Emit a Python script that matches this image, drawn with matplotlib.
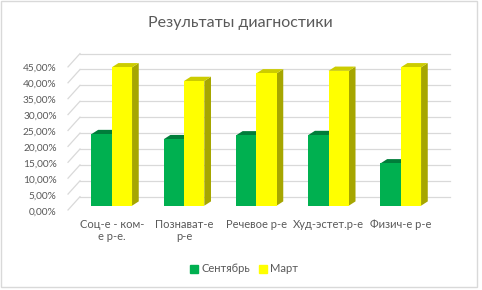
import matplotlib
matplotlib.use('Agg')
import matplotlib.pyplot as plt
from matplotlib.patches import Polygon, Patch, Rectangle
from matplotlib.transforms import offset_copy, ScaledTranslation
from matplotlib.ticker import FuncFormatter

plt.rcParams['font.family'] = ['Lato', 'DejaVu Sans']

# data
categories = ['Соц-е - ком-\nе р-е.', 'Познават-е\nр-е', 'Речевое р-е', 'Худ-эстет.р-е', 'Физич-е р-е']
september = [0.225, 0.209, 0.221, 0.222, 0.133]
march = [0.435, 0.392, 0.416, 0.424, 0.435]
y_ticks = [0, 0.05, 0.10, 0.15, 0.20, 0.25, 0.30, 0.35, 0.40, 0.45]

green = '#00B050'
green_top = '#007D3A'
green_side = '#00803C'
yellow = '#FFFF00'
yellow_top = '#CCCC00'
yellow_side = '#A6A600'
text_col = '#595959'
grid_col = '#D9D9D9'

W, H = 482, 290
fig = plt.figure(figsize=(W / 100, H / 100), dpi=100)

# chart border
fig.patches.append(Rectangle((1 / W, 3 / H), 476 / W, 286 / H, transform=fig.transFigure,
                             fill=False, edgecolor='#D9D9D9', linewidth=1))

# axes placed in pixel units
left, right, bottom, top = 72, 447, 205.7, 62.6
ax = fig.add_axes([left / W, 1 - bottom / H, (right - left) / W, (bottom - top) / H])
ax.set_xlim(-0.55, 4.64)
ax.set_ylim(0, 0.45)
for s in ax.spines.values():
    s.set_visible(False)
ax.patch.set_alpha(0)

# back wall gridlines and floor diagonals (depth effect)
back = offset_copy(ax.get_yaxis_transform(), fig=fig, x=8, y=9, units='dots')
front = offset_copy(ax.get_yaxis_transform(), fig=fig, x=-4, y=-4.3, units='dots')
for t in y_ticks:
    ax.plot([0, 0.987], [t, t], color=grid_col, lw=0.9, transform=back, zorder=0, clip_on=False)
    p0 = front.transform((0, t))
    p1 = back.transform((0, t))
    fig.add_artist(plt.Line2D([p0[0] / W, p1[0] / W], [p0[1] / H, p1[1] / H],
                              transform=fig.transFigure, color=grid_col, lw=0.9, zorder=0))

# bars with simple 3d faces
bw = 0.281
ddx = 6.7 / ((right - left) / (4.64 + 0.55))
ddy = 4.3 / ((bottom - top) / 0.45)


def bar3d(x0, h, front_c, top_c, side_c):
    ax.add_patch(Polygon([(x0 + bw, 0), (x0 + bw + ddx, ddy), (x0 + bw + ddx, h + ddy), (x0 + bw, h)],
                         closed=True, facecolor=side_c, edgecolor='none', zorder=2))
    ax.add_patch(Polygon([(x0, h), (x0 + bw, h), (x0 + bw + ddx, h + ddy), (x0 + ddx, h + ddy)],
                         closed=True, facecolor=top_c, edgecolor='none', zorder=2))
    ax.bar(x0, h, width=bw, align='edge', color=front_c, zorder=3)


for i in range(len(categories)):
    bar3d(i - bw, september[i], green, green_top, green_side)
    bar3d(i, march[i], yellow, yellow_top, yellow_side)

# y labels
ax.set_yticks(y_ticks)
ax.yaxis.set_major_formatter(FuncFormatter(lambda v, p: f'{v * 100:.2f}%'.replace('.', ',')))
ax.tick_params(axis='y', length=0, pad=11, labelsize=7.3, labelcolor=text_col)
for lab in ax.get_yticklabels():
    lab.set_transform(lab.get_transform() + ScaledTranslation(0, -0.05, fig.dpi_scale_trans))

# x labels drawn as text so the line gap can be set
ax.set_xticks([])
xlab_tr = offset_copy(ax.get_xaxis_transform(), fig=fig, x=0, y=-13, units='dots')
for i, name in enumerate(categories):
    ax.text(i, 0, name, transform=xlab_tr, ha='center', va='top', fontsize=8,
            color=text_col, linespacing=1.2, multialignment='center')

fig.text(240 / W, 1 - 23 / H, 'Результаты диагностики', ha='center', va='center',
         fontsize=11.5, color=text_col)

handles = [Patch(color=green, label='Сентябрь'), Patch(color=yellow, label='Март')]
fig.legend(handles=handles, loc='center', bbox_to_anchor=(244 / W, 1 - 269 / H), ncol=2,
           frameon=False, fontsize=8, labelcolor=text_col, handlelength=0.7, handleheight=0.7,
           handletextpad=0.3, columnspacing=0.8)

fig.savefig('out.png', dpi=100)
